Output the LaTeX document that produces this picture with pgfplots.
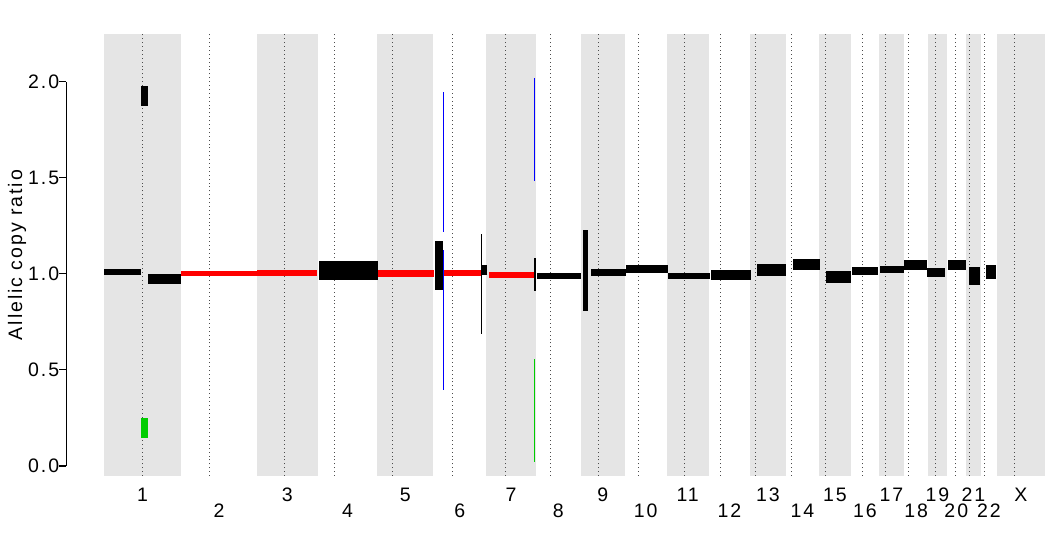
\documentclass[border=0pt]{standalone}
\usepackage{fontspec}
\setmainfont{Liberation Sans}[LetterSpace=10]
\usepackage{pgfplots}
\pgfplotsset{compat=1.18}
\definecolor{band}{RGB}{229,229,229}
\definecolor{cnred}{RGB}{255,0,0}
\definecolor{cngreen}{RGB}{0,205,0}
\definecolor{cnblue}{RGB}{0,0,255}
\newcommand{\seg}[5]{\addplot[fill=#1, draw=none, forget plot] coordinates {(#2,#4) (#3,#4) (#3,#5) (#2,#5)};}
\newcommand{\band}[2]{\addplot[fill=band, draw=none, forget plot] coordinates {(#1,-0.052) (#2,-0.052) (#2,2.2477) (#1,2.2477)};}
\begin{document}
\fontsize{19.5}{23}\selectfont
\begin{tikzpicture}
\begin{axis}[
  scale only axis, width=992.6pt, height=442pt,
  xmin=-121.3, xmax=3081.5, ymin=-0.052, ymax=2.2477,
  clip=false,
  axis x line*=bottom, axis y line*=left,
  x axis line style={draw=none}, y axis line style={draw=none},
  tick align=outside, major tick length=7pt,
  ytick={0,0.5,1,1.5,2},
  ytick style={black, line width=1.1pt},
  yticklabel style={/pgf/number format/fixed, /pgf/number format/precision=1, /pgf/number format/fixed zerofill, anchor=east, inner sep=0pt},
  /pgf/number format/assume math mode=true,
  xtick={124.6,591.5,972.1,1313.2,1609.8,1883.4,2142.3,2358.5,2540.8,2689.0,2805.7,2958.7},
  xticklabels={1,3,5,7,9,11,13,15,17,19,21,X},
  extra x ticks={370.9,786.0,1148.1,1466.0,1748.1,2017.8,2253.6,2455.0,2620.4,2750.1,2855.4},
  extra x tick labels={2,4,6,8,10,12,14,16,18,20,22},
  xtick style={draw=none},
  xticklabel style={anchor=base, inner sep=0pt, yshift=-18pt},
  extra x tick style={xticklabel style={yshift=-16pt}},
  ticklabel style={font=\fontsize{19.5}{23}\selectfont},
  ylabel={Allelic copy ratio},
  ylabel style={at={(axis description cs:-0.04473,0.5)}, anchor=base, font=\fontsize{19.5}{23}\selectfont},
]
% chromosome bands (odd chromosomes and X)
\band{0}{249.25}
\band{492.45}{690.47}
\band{881.62}{1062.54}
\band{1233.66}{1392.80}
\band{1539.16}{1680.37}
\band{1815.90}{1950.91}
\band{2084.76}{2199.93}
\band{2307.28}{2409.81}
\band{2500.16}{2581.36}
\band{2659.44}{2718.57}
\band{2781.60}{2829.73}
\band{2881.03}{3036.30}
% centromere lines
\pgfplotsinvokeforeach{123.6,341.1,581.8,742.1,930.3,1125.1,1294.9,1441.4,1594.0,1724.0,1872.5,1989.9,2102.8,2217.7,2326.5,2448.1,2521.0,2594.3,2682.4,2745.9,2793.4,2840.5,2937.3}{
  \addplot[black!70, line width=0.9pt, dash pattern=on 0.9pt off 3pt, forget plot] coordinates {(#1,-0.052) (#1,2.2477)};
}
% segments: colour, start, end (Mb), lower, upper
\seg{black}{0}{119.4}{0.994}{1.025}
\seg{black}{119.4}{142.0}{1.874}{1.978}
\seg{cngreen}{119.4}{142.0}{0.146}{0.251}
\seg{black}{142.0}{249.25}{0.947}{0.999}
\seg{cnred}{249.25}{492.45}{0.989}{1.015}
\seg{cnred}{492.45}{687.3}{0.989}{1.020}
\seg{black}{693.7}{884.1}{0.968}{1.067}
\seg{cnred}{884.1}{1064.8}{0.984}{1.020}
\seg{black}{1068.0}{1093.9}{0.916}{1.171}
\seg{cnblue}{1093.9}{1097.1}{1.218}{1.946}
\seg{cnblue}{1093.9}{1097.1}{0.396}{1.124}
\seg{cnred}{1097.1}{1216.5}{0.989}{1.020}
\seg{black}{1216.5}{1219.7}{0.687}{1.207}
\seg{black}{1216.5}{1235.8}{0.994}{1.046}
\seg{cnred}{1242.3}{1387.5}{0.978}{1.010}
\seg{cnblue}{1387.5}{1390.7}{1.485}{2.019}
\seg{cngreen}{1387.5}{1390.7}{0.022}{0.557}
\seg{black}{1387.5}{1393.9}{0.911}{1.082}
\seg{black}{1397.2}{1539.1}{0.973}{1.004}
\seg{black}{1545.6}{1561.7}{0.807}{1.228}
\seg{black}{1571.4}{1684.3}{0.989}{1.025}
\seg{black}{1684.3}{1819.9}{1.004}{1.046}
\seg{black}{1819.9}{1955.4}{0.973}{1.004}
\seg{black}{1958.6}{2087.7}{0.968}{1.020}
\seg{black}{2107.0}{2200.6}{0.989}{1.051}
\seg{black}{2223.2}{2310.3}{1.020}{1.077}
\seg{black}{2329.7}{2410.3}{0.952}{1.015}
\seg{black}{2413.6}{2497.5}{0.994}{1.036}
\seg{black}{2504.0}{2581.4}{1.004}{1.041}
\seg{black}{2581.4}{2655.6}{1.020}{1.072}
\seg{black}{2655.6}{2713.7}{0.984}{1.030}
\seg{black}{2723.3}{2781.4}{1.020}{1.072}
\seg{black}{2791.1}{2826.6}{0.942}{1.036}
\seg{black}{2846.0}{2878.2}{0.973}{1.046}
% y axis line between first and last tick
\addplot[black, line width=1.1pt, forget plot] coordinates {(-121.3,0) (-121.3,2)};
\end{axis}
\path ([xshift=-66.4pt,yshift=-59pt]current axis.south west) rectangle ([yshift=34pt]current axis.north east);
\end{tikzpicture}
\end{document}
